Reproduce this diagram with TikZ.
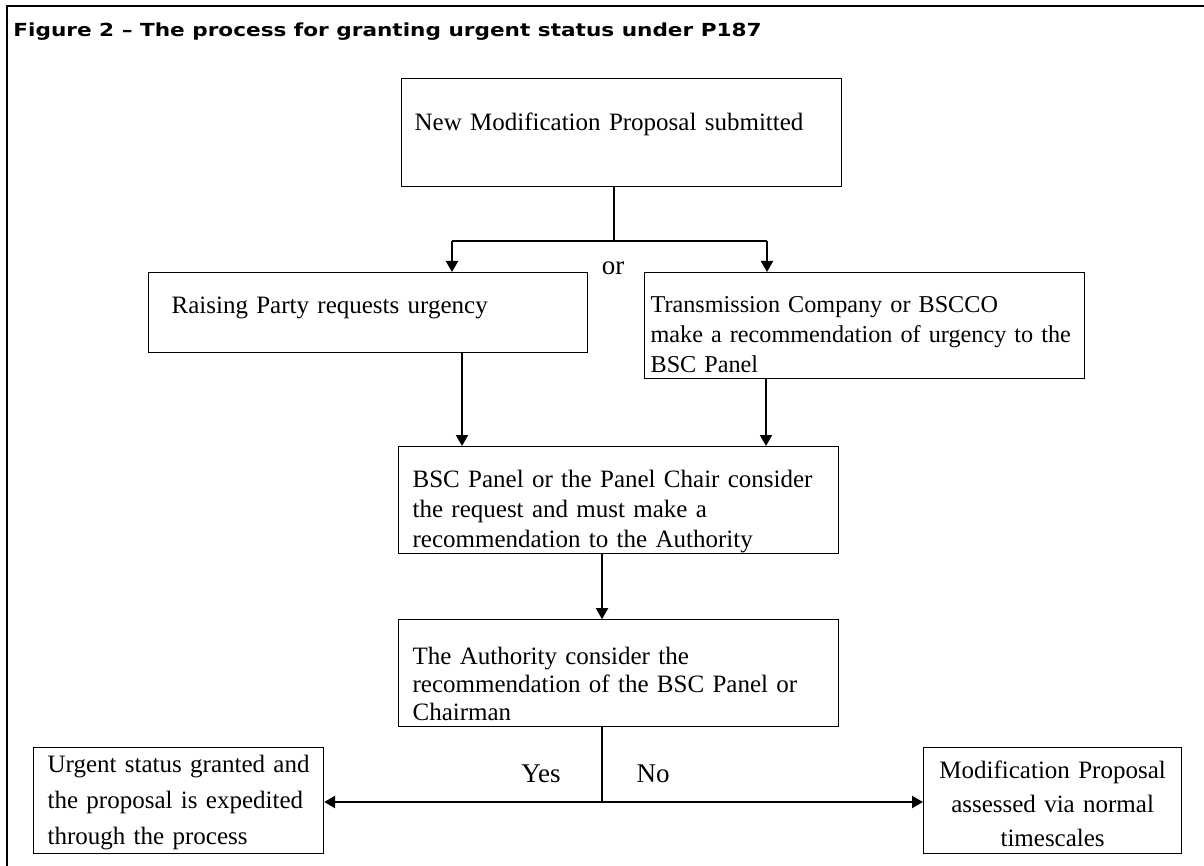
\documentclass[tikz,border=0pt]{standalone}
\usepackage{fontspec}
\setmainfont{Liberation Serif}
\newfontfamily\headfont{DejaVu Sans}[FakeStretch=1.2]
\usetikzlibrary{arrows.meta, positioning}

\begin{document}
\begin{tikzpicture}[
        x=0.5pt, y=-0.5pt,
        node distance=32.5pt,
        flowbox/.style={rectangle, draw, line width=0.6pt, inner ysep=0pt, align=left, font=\fontsize{12.5}{15}\selectfont},
        flowline/.style={line width=0.6pt},
        flowarrow/.style={line width=1pt, -{Triangle[width=6pt, length=5.5pt]}},
        branch/.style={anchor=base, inner sep=0pt, font=\fontsize{13.5}{15}\selectfont}
    ]

    % Frame
    \useasboundingbox (0,0) rectangle (1204,866);
    \draw[line width=1pt] (7,6) rectangle (1220,885);

    % Caption
    \node[anchor=base west, inner sep=0pt, font=\headfont\bfseries\fontsize{9}{11}\selectfont] (caption) at (13,37) {Figure 2 – The process for granting urgent status under P187};

    % Boxes
    \node[flowbox, anchor=north west, inner xsep=6.5pt, text width=207pt, text height=26pt, text depth=28pt] (newmp) at (401,78) {New Modification Proposal submitted};
    \node[flowbox, anchor=north west, inner xsep=11.5pt, text width=196.5pt, text height=20.5pt, text depth=19.5pt] (raise) at (148,272) {Raising Party requests urgency};
    \node[flowbox, anchor=north west, inner xsep=3pt, text width=214pt, text height=20pt, text depth=33pt, font=\fontsize{12.1}{15}\selectfont] (tco) at (644,272) {Transmission Company or BSCCO\\\mbox{make a recommendation of urgency to the}\\BSC Panel};
    \node[flowbox, anchor=north west, inner xsep=7pt, text width=206pt, text height=20.5pt, text depth=33pt] (bsc) at (398,446) {BSC Panel or the Panel Chair consider\\the request and must make a\\recommendation to the Authority};
    \node[flowbox, below=of bsc, inner xsep=7pt, text width=206pt, text height=22.5pt, text depth=31pt, font=\fontsize{12.5}{14}\selectfont] (auth) {The Authority consider the\\recommendation of the BSC Panel or\\Chairman};
    \node[flowbox, anchor=north west, inner xsep=7pt, text width=131pt, text height=12.5pt, text depth=40.5pt, font=\fontsize{12.5}{18}\selectfont] (granted) at (33,747) {Urgent status granted and\\the proposal is expedited\\through the process};
    \node[flowbox, anchor=north west, align=center, inner xsep=4.5pt, text width=120pt, text height=15.5pt, text depth=37.5pt, font=\fontsize{12.5}{17}\selectfont] (normal) at (923,747) {Modification Proposal\\assessed via normal\\timescales};

    % Labels
    \node[branch] (or) at (613,275) {or};
    \node[branch] (yes) at (541,782) {Yes};
    \node[branch] (no) at (653,782) {No};

    % Connectors
    \coordinate (split) at (614,241);
    \coordinate (forkL) at (452,241);
    \coordinate (forkR) at (767,241);
    \draw[flowline] (newmp.south -| split) -- (split);
    \draw[flowline] (forkL) -- (forkR);
    \draw[flowarrow] (forkL) -- (forkL |- raise.north);
    \draw[flowarrow] (forkR) -- (forkR |- tco.north);

    \coordinate (dropL) at (462,400);
    \coordinate (dropR) at (766,400);
    \coordinate (dropM) at (602,590);
    \draw[flowarrow] (raise.south -| dropL) -- (bsc.north -| dropL);
    \draw[flowarrow] (tco.south -| dropR) -- (bsc.north -| dropR);
    \draw[flowarrow] (bsc.south -| dropM) -- (auth.north -| dropM);

    \coordinate (decide) at (602,802);
    \draw[line width=1pt] (auth.south -| decide) -- (decide);
    \draw[flowarrow, line width=1.3pt] (decide) -- (decide -| granted.east);
    \draw[flowarrow] (decide) -- (decide -| normal.west);

\end{tikzpicture}
\end{document}
